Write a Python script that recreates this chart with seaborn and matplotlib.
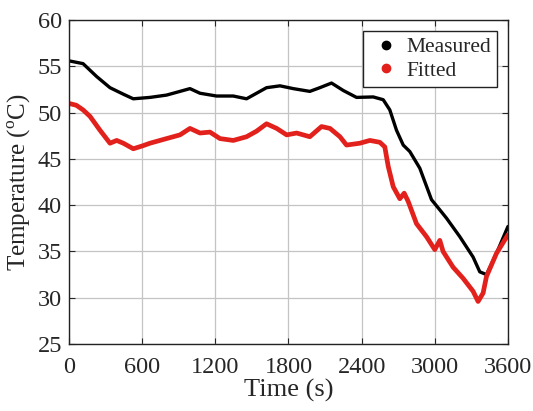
import numpy as np
import pandas as pd
import matplotlib
matplotlib.use("Agg")
import matplotlib.pyplot as plt
from matplotlib.lines import Line2D
import seaborn as sns

# Measured temperature (black)
t_meas = [0, 115, 227, 336, 445, 527, 664, 800, 910, 992, 1074, 1210, 1347, 1456, 1538,
          1620, 1730, 1839, 1975, 2057, 2153, 2249, 2358, 2495, 2577, 2631, 2686, 2741,
          2795, 2877, 2973, 3041, 3096, 3205, 3314, 3369, 3424, 3506, 3600]
y_meas = [55.6, 55.3, 53.9, 52.7, 52.0, 51.5, 51.65, 51.9, 52.3, 52.6, 52.1, 51.8, 51.8, 51.5, 52.1,
          52.7, 52.9, 52.6, 52.3, 52.7, 53.2, 52.4, 51.65, 51.7, 51.4, 50.3, 48.1, 46.5,
          45.8, 44.0, 40.6, 39.5, 38.6, 36.6, 34.4, 32.8, 32.5, 34.8, 37.7]

# Fitted temperature (red)
t_fit = [0, 60, 115, 172, 254, 336, 391, 445, 527, 600, 664, 800, 910, 992, 1074, 1156, 1238,
         1347, 1456, 1538, 1620, 1703, 1785, 1867, 1975, 2071, 2140, 2222, 2276, 2386, 2467,
         2549, 2590, 2618, 2659, 2713, 2749, 2782, 2850, 2932, 3000, 3041, 3068, 3150, 3232,
         3314, 3355, 3396, 3424, 3506, 3600]
y_fit = [51.0, 50.8, 50.3, 49.6, 48.1, 46.7, 47.0, 46.7, 46.1, 46.4, 46.7, 47.2, 47.6, 48.3, 47.8, 47.9, 47.2,
         47.0, 47.4, 48.0, 48.8, 48.3, 47.6, 47.8, 47.4, 48.5, 48.3, 47.4, 46.5, 46.7, 47.0,
         46.8, 46.3, 44.2, 42.0, 40.7, 41.3, 40.4, 38.0, 36.6, 35.2, 36.2, 35.0, 33.3, 32.1,
         30.7, 29.6, 30.5, 32.3, 34.8, 36.8]

x_ticks = [0, 600, 1200, 1800, 2400, 3000, 3600]
y_ticks = [25, 30, 35, 40, 45, 50, 55, 60]
series_names = ["Measured", "Fitted"]
colors = ["#000000", "#e3211c"]

sns.set_style("ticks")
plt.rcParams["font.family"] = ["Liberation Serif", "DejaVu Serif"]
plt.rcParams["mathtext.fontset"] = "custom"
plt.rcParams["mathtext.rm"] = "Liberation Serif"

df_m = pd.DataFrame({"t": t_meas, "T": y_meas})
df_f = pd.DataFrame({"t": t_fit, "T": y_fit})

fig = plt.figure(figsize=(5.33, 4.11), dpi=100)
ax = fig.add_axes([0.1295, 0.163, 0.8235, 0.788])

sns.lineplot(data=df_m, x="t", y="T", ax=ax, color=colors[0], lw=2.4, estimator=None, sort=False)
sns.lineplot(data=df_f, x="t", y="T", ax=ax, color=colors[1], lw=3.4, estimator=None, sort=False)

ax.set_xlim(0, 3600)
ax.set_ylim(25, 60)
ax.set_xticks(x_ticks)
ax.set_yticks(y_ticks)
ax.grid(True, color="#c4c4c4", lw=0.9)
ax.set_axisbelow(True)
for s in ax.spines.values():
    s.set_visible(True)
    s.set_color("#222222")
    s.set_linewidth(1.0)
ax.tick_params(direction="in", top=True, right=True, labelsize=17.5, length=4)
ax.tick_params(axis="x", pad=9)
ax.tick_params(axis="y", pad=5)
ax.set_xlabel("Time (s)", fontsize=19, labelpad=1)
ax.set_ylabel("Temperature ($^{\\mathrm{o}}$C)", fontsize=18, labelpad=3)

handles = [Line2D([], [], marker="o", ls="none", color=c, markersize=6) for c in colors]
leg = ax.legend(handles, series_names, loc="upper right", fontsize=15.5, frameon=True,
                fancybox=False, edgecolor="#222222", framealpha=1, handletextpad=0.2,
                borderpad=0.3, labelspacing=0.15, handlelength=1.5, borderaxespad=0.5)
leg.get_frame().set_linewidth(1.0)

fig.savefig("out.png", dpi=100)
